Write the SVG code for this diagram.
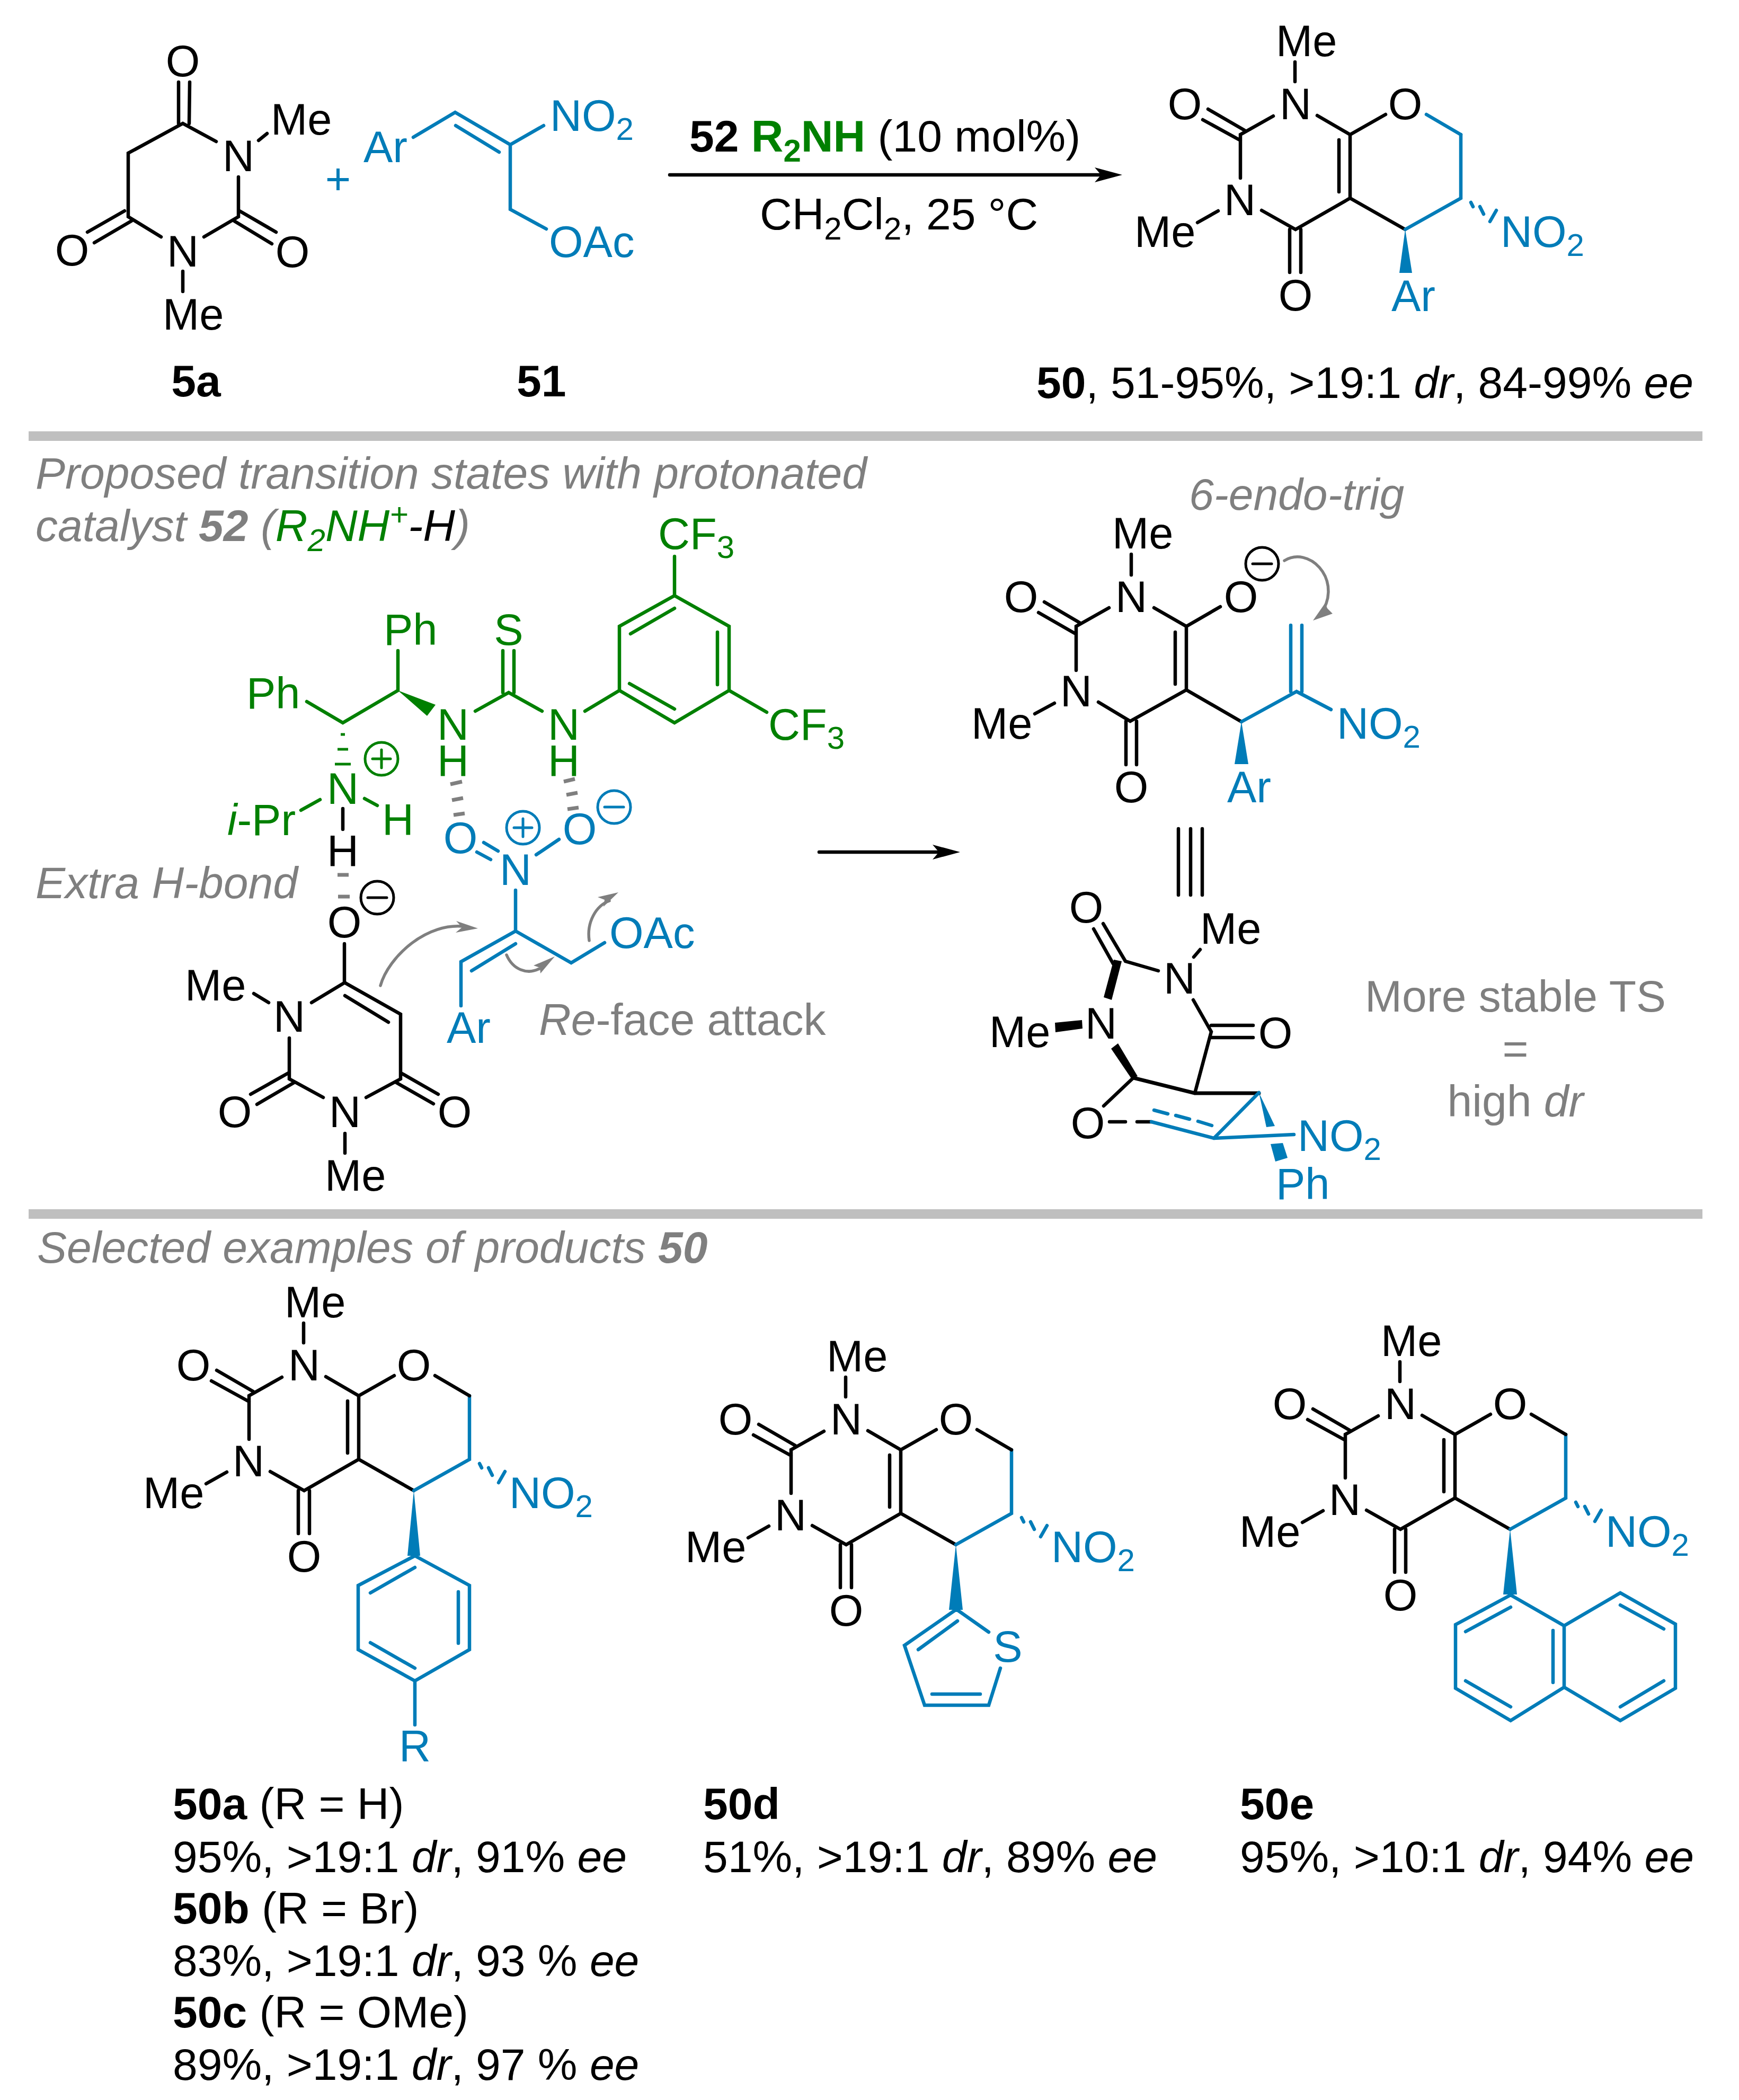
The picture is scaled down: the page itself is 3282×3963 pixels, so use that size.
<svg xmlns="http://www.w3.org/2000/svg" width="3282" height="3963" viewBox="0 0 3282 3963">
<style>
text{font-family:"Liberation Sans",Arial,sans-serif;font-size:83px;fill:#000}
.l{font-size:84px}
.m{text-anchor:middle}
.it{font-style:italic}
.bd{font-weight:bold}
.sub{font-size:60px}
.lsub{font-size:60px}
text.bl,tspan.bl{fill:#007cb8}
text.gn,tspan.gn{fill:#008000}
text.gy,tspan.gy{fill:#7f7f7f}
tspan.kt{fill:#000}
path,line,circle{fill:none;stroke-linecap:round;stroke-linejoin:miter}
.k{stroke:#000;stroke-width:6.5}
.b{stroke:#007cb8;stroke-width:6.5}
.g{stroke:#008000;stroke-width:6.5}
.a{stroke:#7f7f7f;stroke-width:5.5}
.hb{stroke:#7f7f7f;stroke-width:7;stroke-linecap:butt}
.c{stroke-width:5}
.fb{fill:#007cb8;stroke:none}
.fk{fill:#000;stroke:none}
.fg{fill:#008000;stroke:none}
.fa{fill:#7f7f7f;stroke:none}
.bar{fill:#bfbfbf}
</style>
<defs>
<path id="core-k" class="k" d="M573 2497V2534M532 2599L470 2634V2716M409 2586L478 2626M399 2606L470 2645M389 2800L428 2778M510 2777L574 2813L677 2754L781 2813M563 2813V2894M584 2813V2894M677 2754V2634M656 2644V2742M615 2598L677 2634L744 2596"/>
<path id="core-b" class="b" d="M886 2634V2754L781 2813M905 2762L909 2770M922 2770L929 2784M941 2798L953 2777"/>
<path id="core-o" class="k" d="M821 2596L886 2634"/>
</defs>
<rect class="bar" x="54" y="814" width="3159" height="18"/>
<rect class="bar" x="54" y="2282" width="3159" height="18"/>

<g id="node-5a">
<path class="k" d="M345 512V550M488 265L504 252M408 267L345 233L242 289V409L304 447M450 334V409L385 447M337 155L337 233M358 155L357 233M165 438L235 398M178 458L248 417M452 398L521 438M442 417L513 460"/>
<text class="m" x="345" y="144">O</text>
<text x="511" y="254">Me</text>
<text class="m" x="450" y="323">N</text>
<text class="m" x="136" y="501">O</text>
<text class="m" x="345" y="503">N</text>
<text class="m" x="552" y="504">O</text>
<text x="307" y="622">Me</text>
<text class="l bd m" x="370" y="748">5a</text>
</g>
<text id="plus" class="bl m" x="638" y="366">+</text>
<g id="node-51">
<path class="b" d="M780 259L859 212L963 273L1026 237M860 237L942 287M963 273V395L1031 432"/>
<text class="bl" x="686" y="306">Ar</text>
<text class="bl" x="1038" y="247">NO<tspan class="sub" dy="17">2</tspan></text>
<text class="bl" x="1036" y="485">OAc</text>
<text class="l bd" x="975" y="748">51</text>
</g>
<g id="conditions">
<text class="l" x="1301" y="286"><tspan class="bd">52 </tspan><tspan class="bd gn">R</tspan><tspan class="bd gn lsub" dy="19">2</tspan><tspan class="bd gn" dy="-19">NH</tspan> (10 mol%)</text>
<text class="l" x="1434" y="433">CH<tspan class="lsub" dy="19">2</tspan><tspan dy="-19">Cl</tspan><tspan class="lsub" dy="19">2</tspan><tspan dy="-19">, 25 °C</tspan></text>
</g>
<g id="connectors">
<path class="k" d="M1264 330H2080"/>
<polygon class="fk" points="2118,330 2066,316 2078,330 2066,344"/>
<path class="k" d="M1546 1608H1776"/>
<polygon class="fk" points="1812,1608 1760,1594 1772,1608 1760,1622"/>
<path class="k" d="M2224 1564V1689M2247 1564V1689M2269 1564V1689"/>
</g>
<g id="node-50" transform="translate(1871,-2380)">
<use href="#core-k"/><use href="#core-b"/>
<path class="b" d="M821 2596L886 2634"/>
<polygon class="fb" points="781,2813 770,2895 794,2895"/>
<text x="537" y="2486">Me</text>
<text class="m" x="574" y="2605">N</text>
<text class="m" x="365" y="2605">O</text>
<text class="m" x="469" y="2786">N</text>
<text x="270" y="2846">Me</text>
<text class="m" x="574" y="2966">O</text>
<text class="m" x="781" y="2605">O</text>
<text class="bl" x="961" y="2846">NO<tspan class="sub" dy="17">2</tspan></text>
<text class="bl" x="755" y="2967">Ar</text>
</g>
<text id="label-50" class="l" x="1956" y="751"><tspan class="bd">50</tspan>, 51-95%, &gt;19:1 <tspan class="it">dr</tspan>, 84-99% <tspan class="it">ee</tspan></text>

<g id="captions">
<text class="l it gy" x="67" y="922">Proposed transition states with protonated</text>
<text class="l it gy" x="67" y="1021">catalyst <tspan class="bd">52</tspan> (<tspan class="gn">R</tspan><tspan class="gn lsub" dy="19">2</tspan><tspan class="gn" dy="-19">NH</tspan><tspan class="gn sub" dy="-30">+</tspan><tspan class="kt" dy="30">-H</tspan>)</text>
<text class="l it gy" x="67" y="1695">Extra H-bond</text>
<text class="l it gy" x="2244" y="962">6-endo-trig</text>
<text class="l gy" x="1017" y="1953"><tspan class="it">Re</tspan>-face attack</text>
<text class="l gy m" x="2860" y="1909">More stable TS</text>
<text class="l gy m" x="2860" y="2008">=</text>
<text class="l gy m" x="2860" y="2107">high <tspan class="it">dr</tspan></text>
<text class="l it gy" x="70" y="2383">Selected examples of products <tspan class="bd">50</tspan></text>
</g>

<g id="node-catalyst">
<path class="g" d="M1273 1050V1124L1376 1182V1303L1273 1364L1169 1303V1182L1273 1124M1190 1196L1273 1148M1354 1193V1292M1188 1290L1273 1338M1376 1303L1447 1344M1104 1342L1169 1303M897 1342L960 1307L1023 1342M949 1228V1307M970 1228V1307M751 1228V1303L647 1364L579 1324M568 1529L604 1509M688 1507L712 1520"/>
<polygon class="fg" points="751,1303 822,1330 806,1351"/>
<path class="g" style="stroke-width:5;stroke-linecap:butt" d="M643 1386H651M637 1414H657M632 1442H662"/>
<circle class="g c" cx="720" cy="1432" r="31"/>
<path class="g c" d="M703 1432H737M720 1415V1449"/>
<text class="gn" x="1242" y="1036">CF<tspan class="sub" dy="17">3</tspan></text>
<text class="gn" x="1450" y="1396">CF<tspan class="sub" dy="17">3</tspan></text>
<text class="gn m" x="960" y="1217">S</text>
<text class="gn" x="724" y="1217">Ph</text>
<text class="gn" x="465" y="1337">Ph</text>
<text class="gn m" x="855" y="1396">N</text>
<text class="gn m" x="1064" y="1396">N</text>
<text class="gn m" x="855" y="1465">H</text>
<text class="gn m" x="1064" y="1465">H</text>
<text class="gn m" x="647" y="1517">N</text>
<text class="gn" x="429" y="1576"><tspan class="it">i</tspan>-Pr</text>
<text class="gn m" x="751" y="1576">H</text>
</g>
<g id="hbonds">
<path class="hb" d="M850 1480L872 1475M853 1510L874 1506M856 1538L877 1535M1064 1475L1085 1470M1069 1500L1090 1496M1071 1527L1092 1524M637 1651H658M638 1692H660"/>
</g>
<g id="node-nitroalkene">
<circle class="b c" cx="987" cy="1562" r="31"/>
<path class="b c" d="M970 1562H1004M987 1545V1579"/>
<circle class="b c" cx="1159" cy="1523" r="31"/>
<path class="b c" d="M1141 1523H1177"/>
<path class="b" d="M913 1590L940 1606M900 1608L926 1622M1012 1613L1055 1584M973 1680V1757L870 1815V1898M973 1781L890 1832M973 1757L1078 1817L1141 1779"/>
<text class="bl m" x="869" y="1610">O</text>
<text class="bl m" x="1094" y="1593">O</text>
<text class="bl m" x="973" y="1670">N</text>
<text class="bl" x="1150" y="1789">OAc</text>
<text class="bl" x="843" y="1968">Ar</text>
</g>
<g id="node-enolate">
<circle class="k c" cx="712" cy="1694" r="31"/>
<path class="k c" d="M694 1694H730"/>
<path class="k" d="M647 1526V1565M650 1781V1854L756 1914V2036L691 2071M651 1879L733 1929M588 1892L651 1854M479 1875L507 1892M546 1959V2036L610 2071M651 2139V2176M473 2065L544 2025M485 2084L555 2043M757 2025L827 2065M748 2043L818 2083"/>
<text class="m" x="647" y="1635">H</text>
<text class="m" x="650" y="1769">O</text>
<text x="349" y="1888">Me</text>
<text class="m" x="546" y="1947">N</text>
<text class="m" x="443" y="2127">O</text>
<text class="m" x="651" y="2127">N</text>
<text class="m" x="858" y="2127">O</text>
<text x="613" y="2247">Me</text>
</g>
<g id="curved-arrows">
<path class="a" d="M718 1860C733 1806 806 1738 880 1749"/>
<polygon class="fa" points="902,1752 861,1738 872,1750 860,1760"/>
<path class="a" d="M1112 1775C1107 1740 1125 1709 1150 1700"/>
<polygon class="fa" points="1167,1684 1128,1693 1141,1698 1139,1711"/>
<path class="a" d="M956 1802C968 1830 995 1840 1018 1828"/>
<polygon class="fa" points="1047,1805 1007,1822 1019,1826 1020,1837"/>
<path class="a" d="M2424 1058C2470 1030 2530 1090 2498 1150"/>
<polygon class="fa" points="2478,1171 2501,1138 2505,1148 2515,1158"/>
</g>
<g id="node-intermediate">
<circle class="k c" cx="2382" cy="1064" r="31"/>
<path class="k c" d="M2364 1064H2400"/>
<path class="k" d="M2135 1046V1085M1971 1136L2039 1176M1960 1156L2028 1195M2093 1147L2031 1182V1265M1953 1347L1990 1327M2073 1325L2133 1361L2239 1302L2343 1362M2125 1361V1443M2145 1361V1443M2239 1302V1182M2218 1193V1291M2178 1147L2239 1182L2303 1145"/>
<path class="b" d="M2343 1362L2447 1305L2512 1339M2436 1180V1305M2457 1180V1305"/>
<polygon class="fb" points="2343,1362 2330,1442 2356,1442"/>
<text x="2099" y="1035">Me</text>
<text class="m" x="2135" y="1155">N</text>
<text class="m" x="1927" y="1155">O</text>
<text class="m" x="2342" y="1155">O</text>
<text class="m" x="2031" y="1333">N</text>
<text x="1833" y="1394">Me</text>
<text class="m" x="2135" y="1514">O</text>
<text class="bl" x="2523" y="1394">NO<tspan class="sub" dy="17">2</tspan></text>
<text class="bl" x="2316" y="1514">Ar</text>
</g>
<g id="node-ts">
<path class="k" d="M2064 1753L2101 1819M2082 1743L2124 1814L2186 1832M2253 1806L2265 1792M2252 1887L2286 1947L2255 2063M2286 1935H2365M2286 1958H2365M2139 2034L2083 2087M2094 2117H2124M2146 2117H2173"/>
<path class="k" style="stroke-width:7" d="M2139 2034L2255 2063H2376"/>
<polygon class="fk" points="2102,1811 2117,1814 2098,1887 2083,1882"/>
<polygon class="fk" points="1991,1930 2042,1925 2043,1941 1992,1948"/>
<polygon class="fk" points="2110,1969 2097,1979 2135,2035 2147,2031"/>
<path class="b" d="M2173 2117L2291 2148L2376 2062M2291 2148L2442 2141M2178 2095L2204 2102M2219 2105L2245 2112M2261 2116L2287 2124"/>
<polygon class="fb" points="2376,2062 2390,2127 2406,2125"/>
<polygon class="fb" points="2398,2159 2421,2157 2430,2185 2407,2192"/>
<text class="m" x="2050" y="1741">O</text>
<text x="2265" y="1781">Me</text>
<text class="m" x="2226" y="1875">N</text>
<text class="m" x="2407" y="1978">O</text>
<text class="m" x="2078" y="1960">N</text>
<text x="1867" y="1976">Me</text>
<text class="m" x="2053" y="2148">O</text>
<text class="bl" x="2449" y="2172">NO<tspan class="sub" dy="17">2</tspan></text>
<text class="bl" x="2408" y="2263">Ph</text>
</g>

<g id="node-50a">
<use href="#core-k"/><use href="#core-b"/><use href="#core-o"/>
<polygon class="fb" points="781,2813 769,2936 793,2936"/>
<path class="b" d="M783 2936L886 2992V3113L783 3172L676 3113V2992L783 2936M699 3006L783 2958M865 3004V3101M699 3100L783 3148M783 3172V3255"/>
<text x="537" y="2486">Me</text>
<text class="m" x="574" y="2605">N</text>
<text class="m" x="365" y="2605">O</text>
<text class="m" x="469" y="2786">N</text>
<text x="270" y="2846">Me</text>
<text class="m" x="574" y="2966">O</text>
<text class="m" x="781" y="2605">O</text>
<text class="bl" x="961" y="2846">NO<tspan class="sub" dy="17">2</tspan></text>
<text class="bl m" x="783" y="3324">R</text>
</g>
<g id="node-50d">
<g transform="translate(1023,102)">
<use href="#core-k"/><use href="#core-b"/><use href="#core-o"/>
<polygon class="fb" points="781,2813 768,2936 794,2936"/>
<text x="537" y="2486">Me</text>
<text class="m" x="574" y="2605">N</text>
<text class="m" x="365" y="2605">O</text>
<text class="m" x="469" y="2786">N</text>
<text x="270" y="2846">Me</text>
<text class="m" x="574" y="2966">O</text>
<text class="m" x="781" y="2605">O</text>
<text class="bl" x="961" y="2846">NO<tspan class="sub" dy="17">2</tspan></text>
</g>
<path class="b" d="M1866 3080L1805 3037L1707 3105L1745 3218H1866L1888 3148M1807 3059L1733 3113M1759 3197H1850"/>
<text class="bl m" x="1902" y="3136">S</text>
</g>
<g id="node-50e">
<g transform="translate(2069,73)">
<use href="#core-k"/><use href="#core-b"/><use href="#core-o"/>
<polygon class="fb" points="781,2813 768,2936 794,2936"/>
<text x="537" y="2486">Me</text>
<text class="m" x="574" y="2605">N</text>
<text class="m" x="365" y="2605">O</text>
<text class="m" x="469" y="2786">N</text>
<text x="270" y="2846">Me</text>
<text class="m" x="574" y="2966">O</text>
<text class="m" x="781" y="2605">O</text>
<text class="bl" x="961" y="2846">NO<tspan class="sub" dy="17">2</tspan></text>
</g>
<path class="b" d="M2851 3010L2952 3068L3058 3006L3162 3065V3186L3058 3247L2952 3184L2851 3247L2747 3186V3066L2851 3010M2952 3068V3184M2766 3079L2851 3033M2931 3077V3175M2766 3172L2851 3221M3058 3029L3140 3074M3140 3172L3058 3221"/>
</g>
<g id="yields">
<text class="l" x="326" y="3433"><tspan class="bd">50a</tspan> (R = H)</text>
<text class="l" x="326" y="3533">95%, &gt;19:1 <tspan class="it">dr</tspan>, 91% <tspan class="it">ee</tspan></text>
<text class="l" x="326" y="3630"><tspan class="bd">50b</tspan> (R = Br)</text>
<text class="l" x="326" y="3729">83%, &gt;19:1 <tspan class="it">dr</tspan>, 93 % <tspan class="it">ee</tspan></text>
<text class="l" x="326" y="3826"><tspan class="bd">50c</tspan> (R = OMe)</text>
<text class="l" x="326" y="3925">89%, &gt;19:1 <tspan class="it">dr</tspan>, 97 % <tspan class="it">ee</tspan></text>
<text class="l bd" x="1327" y="3433">50d</text>
<text class="l" x="1327" y="3533">51%, &gt;19:1 <tspan class="it">dr</tspan>, 89% <tspan class="it">ee</tspan></text>
<text class="l bd" x="2340" y="3433">50e</text>
<text class="l" x="2340" y="3533">95%, &gt;10:1 <tspan class="it">dr</tspan>, 94% <tspan class="it">ee</tspan></text>
</g>
</svg>
